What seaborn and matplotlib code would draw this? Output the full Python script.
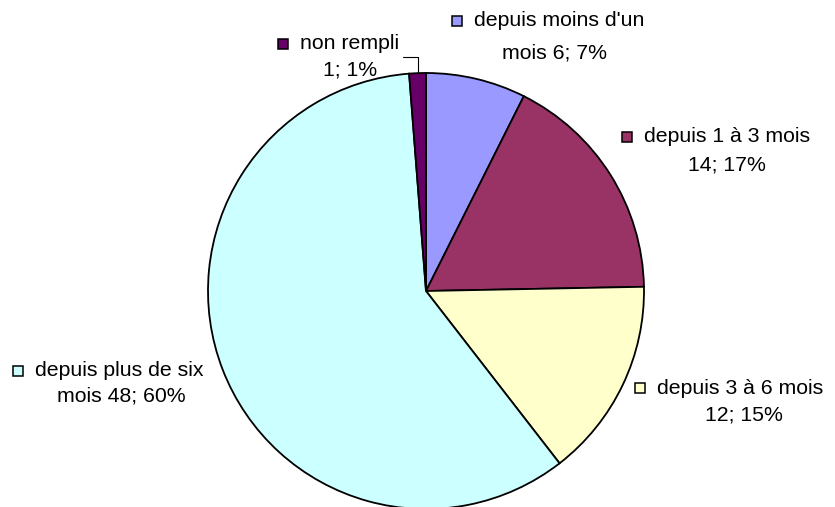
import numpy as np
import matplotlib
matplotlib.use("Agg")
import matplotlib.pyplot as plt
import seaborn as sns
from matplotlib.patches import Rectangle

categories = ["depuis moins d'un mois", "depuis 1 à 3 mois", "depuis 3 à 6 mois",
              "depuis plus de six mois", "non rempli"]
counts = [6, 14, 12, 48, 1]
pct_labels = ["7%", "17%", "15%", "60%", "1%"]
# where Excel wrapped each label (number of words kept on the first line)
wrap_words = [3, 5, 5, 4, 2]

colors = ["#9999FF", "#993366", "#FFFFCC", "#CCFFFF", "#660066"]

# label layout in pixels: (square x, line1 y, line2 centre x, line2 y)
layout = [
    (452, 21, 555, 53),
    (622, 137, 727, 165),
    (635, 388, 744, 415),
    (13, 371, 121, 396),
    (278, 44, 350, 70),
]

sns.set_theme(style="white")
plt.rcParams['font.family'] = ['Liberation Sans', 'DejaVu Sans']
plt.rcParams['text.color'] = 'black'

W, H = 835, 507
cx, cy, R = 426, 291, 218

fig = plt.figure(figsize=(W / 100, H / 100), dpi=100)
ax = fig.add_axes([0, 0, 1, 1])

ax.pie(counts, colors=colors, startangle=90, counterclock=False, radius=1,
       wedgeprops=dict(edgecolor='black', linewidth=1.3))
ax.set_aspect('equal')
ax.set_xlim(-cx / R, (W - cx) / R)
ax.set_ylim(-(H - cy) / R, cy / R)
ax.axis('off')


def to_data(px, py):
    return (px - cx) / R, (cy - py) / R


fs = 15.3
sq = 10 / R
for i, cat in enumerate(categories):
    words = cat.split()
    line1 = " ".join(words[:wrap_words[i]])
    rest = " ".join(words[wrap_words[i]:])
    line2 = (rest + " " if rest else "") + f"{counts[i]}; {pct_labels[i]}"
    sx, y1, x2, y2 = layout[i]
    dx, dy = to_data(sx, y1)
    ax.add_patch(Rectangle((dx, dy - sq / 2), sq, sq, facecolor=colors[i],
                           edgecolor='black', linewidth=1.1, clip_on=False))
    ax.text(dx + sq + 12 / R, dy, line1, fontsize=fs, ha='left', va='center',
            color='black')
    tx, ty = to_data(x2, y2)
    ax.text(tx, ty, line2, fontsize=fs, ha='center', va='center', color='black')

# leader line for the small "non rempli" wedge
total = sum(counts)
mid = np.deg2rad(90 + 360 * (counts[-1] / 2) / total)
ex, ey = np.cos(mid), np.sin(mid)
kx, ky = to_data(403, 57)
ax.plot([ex, ex, kx], [ey, ky, ky], color='black', linewidth=0.8)

fig.savefig("out.png", dpi=100)
